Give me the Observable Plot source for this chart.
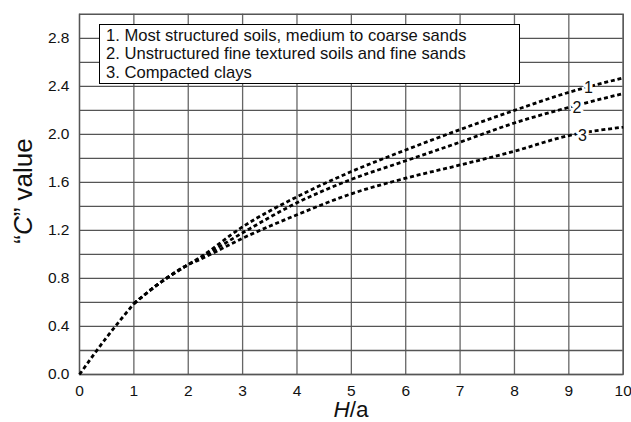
<!DOCTYPE html>
<html>
<head>
<meta charset="utf-8">
<script src="https://cdn.jsdelivr.net/npm/d3@7"></script>
<script src="https://cdn.jsdelivr.net/npm/@observablehq/plot@0.6"></script>
<style>
  html, body { margin: 0; padding: 0; background: #fff; }
  #wrap { position: relative; width: 631px; height: 422px; font-family: "Liberation Sans", Arial, sans-serif; }
  #legend {
    position: absolute; left: 99px; top: 24px; width: 413px; height: 56px;
    border: 1.5px solid #000; background: #fff;
    font-size: 16.6px; line-height: 18.4px; padding: 2px 0 0 6px; box-sizing: content-box; color: #111;
  }
</style>
</head>
<body>
<div id="wrap"></div>
<script>
// ---- data ----
// shared initial segment
const hCommon = [0, 0.5, 1];
const cCommon = [0, 0.31, 0.59];
// branches from H/a = 1
const hBranch = [1, 1.5, 2, 2.2, 3, 4, 5, 6, 7, 8, 9, 10];
const curve1 = [0.59, 0.77, 0.915, 0.97, 1.23, 1.48, 1.69, 1.87, 2.04, 2.20, 2.35, 2.47];
const curve2 = [0.59, 0.77, 0.915, 0.965, 1.18, 1.43, 1.625, 1.78, 1.935, 2.095, 2.225, 2.34];
const curve3 = [0.59, 0.77, 0.915, 0.955, 1.135, 1.33, 1.505, 1.635, 1.745, 1.86, 1.99, 2.06];
const seriesNames = ["1", "2", "3"];
const legendLines = [
  "1. Most structured soils, medium to coarse sands",
  "2. Unstructured fine textured soils and fine sands",
  "3. Compacted clays"
];
const labelX = [9.36, 9.15, 9.25];
const labelY = [2.387, 2.217, 1.987];
const xTicks = [0, 1, 2, 3, 4, 5, 6, 7, 8, 9, 10];
const yTicks = [0, 0.4, 0.8, 1.2, 1.6, 2.0, 2.4, 2.8];
const yGrid = [0, 0.2, 0.4, 0.6, 0.8, 1.0, 1.2, 1.4, 1.6, 1.8, 2.0, 2.2, 2.4, 2.6, 2.8, 3.0];

// ---- build tables ----
const commonRows = hCommon.map((h, j) => ({ h, c: cCommon[j] }));
const curves = [curve1, curve2, curve3];
const rows = [];
curves.forEach((c, i) => c.forEach((v, j) => rows.push({ series: seriesNames[i], h: hBranch[j], c: v })));
const labels = seriesNames.map((s, i) => ({ s, x: labelX[i], y: labelY[i] }));

const font = "Liberation Sans, Arial, sans-serif";
const dash = { stroke: "#000", strokeWidth: 2.8, strokeDasharray: "4,2.8", strokeLinecap: "butt", strokeLinejoin: "miter" };
const chart = Plot.plot({
  width: 631,
  height: 422,
  marginLeft: 79,
  marginRight: 8.3,
  marginTop: 13.8,
  marginBottom: 48,
  style: { fontFamily: font, fontSize: "15.5px", color: "#111", background: "#fff" },
  x: { domain: [0, 10] },
  y: { domain: [0, 3.0] },
  marks: [
    Plot.ruleX(xTicks, { stroke: "#666", strokeWidth: 1.3 }),
    Plot.ruleY(yGrid, { stroke: "#555", strokeWidth: 1.3 }),
    Plot.frame({ stroke: "#555", strokeWidth: 1.3 }),
    Plot.line(commonRows, { x: "h", y: "c", ...dash, curve: "monotone-x" }),
    Plot.line(rows, { x: "h", y: "c", z: "series", ...dash, curve: "monotone-x" }),
    Plot.text(labels, { x: "x", y: "y", text: "s", fontSize: 16, fill: "#111", stroke: "#fff", strokeWidth: 6 }),
    Plot.axisX(xTicks, { tickSize: 0, tickPadding: 10, label: null, fontSize: 15.5 }),
    Plot.axisY(yTicks, { tickSize: 0, tickPadding: 10, label: null, fontSize: 15.5, tickFormat: d3.format(".1f") })
  ]
});

const wrap = document.getElementById("wrap");
wrap.appendChild(chart);

// axis titles with mixed italic
const svg = d3.select(chart);
const xt = svg.append("text")
  .attr("x", 351).attr("y", 417.3)
  .attr("text-anchor", "middle")
  .attr("font-size", 22.5).attr("font-family", font).attr("fill", "#111");
xt.append("tspan").attr("font-style", "italic").text("H");
xt.append("tspan").text("/a");

const yt = svg.append("text")
  .attr("transform", "translate(32,191) rotate(-90)")
  .attr("text-anchor", "middle")
  .attr("font-size", 26).attr("font-family", font).attr("fill", "#111");
yt.append("tspan").text("\u201C");
yt.append("tspan").attr("font-style", "italic").text("C");
yt.append("tspan").text("\u201D value");

// legend box
const lg = document.createElement("div");
lg.id = "legend";
legendLines.forEach(t => { const d = document.createElement("div"); d.textContent = t; lg.appendChild(d); });
wrap.appendChild(lg);
</script>
</body>
</html>
